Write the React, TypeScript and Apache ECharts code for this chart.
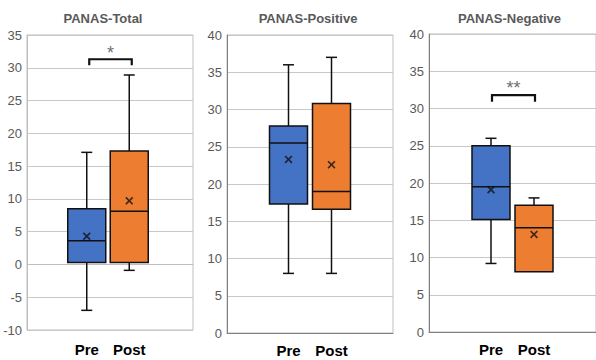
import React, { useEffect, useRef } from "react";
import * as echarts from "echarts";

const categories = ["Pre", "Post"];
const panelTitles = ["PANAS-Total", "PANAS-Positive", "PANAS-Negative"];
// [min, Q1, median, Q3, max]
const totalStats = [
  [-7, 0.3, 3.6, 8.5, 17.1],
  [-0.9, 0.3, 8.1, 17.3, 28.9],
];
const totalMeans = [4.3, 9.7];
const positiveStats = [
  [8, 17.3, 25.5, 27.8, 36],
  [8, 16.6, 19, 30.8, 37],
];
const positiveMeans = [23.3, 22.6];
const negativeStats = [
  [9.2, 15.1, 19.5, 25, 26],
  [8.1, 8.1, 14, 17, 18],
];
const negativeMeans = [19.1, 13.1];
// [from category, to category, leg bottom, bracket top, star y, label]
const totalSig = [[0, 1, 30.4, 31.3, 32.8, "*"]];
const negativeSig = [[0, 1, 30.9, 31.8, 33.3, "**"]];
const yRanges = [
  { min: -10, max: 35 },
  { min: 0, max: 40 },
  { min: 0, max: 40 },
];

const boxColors = ["#4472C4", "#ED7D31"];

const frames = [
  { left: 27, top: 35, width: 166, height: 295 },
  { left: 227, top: 35, width: 166, height: 298 },
  { left: 429, top: 34, width: 167, height: 298 },
];
const boxGrids = [
  { left: 65.5, width: 85 },
  { left: 267, width: 86 },
  { left: 469.5, width: 86 },
];
const labelMargins = [12, 9.5, 10];
const bracketShift = [2.5, 1.5, 1];

const statsList = [totalStats, positiveStats, negativeStats];
const meansList = [totalMeans, positiveMeans, negativeMeans];
const sigList = [totalSig, [], negativeSig];

const xMark =
  "path://M0,1.5L1.5,0L5,3.5L8.5,0L10,1.5L6.5,5L10,8.5L8.5,10L5,6.5L1.5,10L0,8.5L3.5,5Z";

export default function App() {
  const ref = useRef<HTMLDivElement>(null);
  useEffect(() => {
    if (!ref.current) return;
    const chart = echarts.init(ref.current, null, { renderer: "svg" });
    const grid: any[] = [];
    const xAxis: any[] = [];
    const yAxis: any[] = [];
    const series: any[] = [];
    const title: any[] = [];

    frames.forEach((f, i) => {
      const frameIdx = i * 2;
      const boxIdx = i * 2 + 1;
      const dark = i === 0 ? "#bfbfbf" : "#808080";
      grid.push({
        left: f.left,
        top: f.top,
        width: f.width,
        height: f.height,
        show: true,
        borderColor: "#bfbfbf",
        borderWidth: 1,
        backgroundColor: "#ffffff",
      });
      grid.push({
        left: boxGrids[i].left,
        top: f.top,
        width: boxGrids[i].width,
        height: f.height,
      });
      title.push({
        text: panelTitles[i],
        left: f.left + f.width / 2 + (i === 0 ? -12 : i === 1 ? -7 : -8),
        top: 7,
        textAlign: "center",
        textStyle: {
          fontFamily: "Liberation Sans, Arial, sans-serif",
          fontSize: 13,
          fontWeight: "bold",
          color: "#595959",
        },
      });
      xAxis.push({
        type: "value",
        gridIndex: frameIdx,
        min: 0,
        max: 1,
        axisLabel: { show: false },
        axisTick: { show: false },
        splitLine: { show: false },
        axisLine: { show: true, lineStyle: { color: dark, width: 1 } },
      });
      xAxis.push({
        type: "category",
        gridIndex: boxIdx,
        data: categories,
        axisLine: { show: false },
        axisTick: { show: false },
        axisLabel: {
          margin: labelMargins[i],
          fontFamily: "Liberation Sans, Arial, sans-serif",
          fontSize: 15,
          fontWeight: "bold",
          color: "#000000",
        },
      });
      yAxis.push({
        type: "value",
        gridIndex: frameIdx,
        min: yRanges[i].min,
        max: yRanges[i].max,
        interval: 5,
        axisLine: { show: true, lineStyle: { color: dark, width: 1 } },
        axisTick: { show: false },
        axisLabel: {
          margin: 5,
          fontFamily: "Liberation Sans, Arial, sans-serif",
          fontSize: 13,
          color: "#595959",
        },
        splitLine: { show: true, lineStyle: { color: "#c8c8c8", width: 1 } },
      });
      yAxis.push({
        type: "value",
        gridIndex: boxIdx,
        min: yRanges[i].min,
        max: yRanges[i].max,
        interval: 5,
        show: false,
        splitLine: { show: false },
      });

      const stats = statsList[i];
      series.push({
        type: "custom",
        xAxisIndex: boxIdx,
        yAxisIndex: boxIdx,
        data: stats.map((s, k) => [k, ...s]),
        encode: { x: 0, y: [1, 2, 3, 4, 5] },
        renderItem: (params: any, api: any) => {
          const k = api.value(0);
          const x = api.coord([k, 0])[0];
          const yv = [1, 2, 3, 4, 5].map((d) => api.coord([k, api.value(d)])[1]);
          const [yMin, yQ1, yMed, yQ3, yMax] = yv;
          const half = 19;
          const cap = 5.5;
          const ls = { stroke: "#111111", lineWidth: 1.5 };
          const children: any[] = [];
          if (Math.abs(yMax - yQ3) > 0.5) {
            children.push({ type: "line", shape: { x1: x, y1: yMax, x2: x, y2: yQ3 }, style: ls });
            children.push({ type: "line", shape: { x1: x - cap, y1: yMax, x2: x + cap, y2: yMax }, style: ls });
          }
          if (Math.abs(yMin - yQ1) > 0.5) {
            children.push({ type: "line", shape: { x1: x, y1: yQ1, x2: x, y2: yMin }, style: ls });
            children.push({ type: "line", shape: { x1: x - cap, y1: yMin, x2: x + cap, y2: yMin }, style: ls });
          }
          children.push({
            type: "rect",
            shape: { x: x - half, y: yQ3, width: half * 2, height: yQ1 - yQ3 },
            style: { fill: boxColors[k], stroke: "#111111", lineWidth: 1.5 },
          });
          children.push({ type: "line", shape: { x1: x - half, y1: yMed, x2: x + half, y2: yMed }, style: ls });
          return { type: "group", children };
        },
        z: 3,
      });
      series.push({
        type: "scatter",
        xAxisIndex: boxIdx,
        yAxisIndex: boxIdx,
        data: meansList[i].map((m, k) => [k, m]),
        symbol: xMark,
        symbolSize: 8,
        itemStyle: { color: "#111111" },
        z: 5,
      });
      if (sigList[i].length) {
        const shift = bracketShift[i];
        series.push({
          type: "custom",
          xAxisIndex: boxIdx,
          yAxisIndex: boxIdx,
          data: sigList[i],
          renderItem: (params: any, api: any) => {
            const a = api.value(0);
            const b = api.value(1);
            const xa = api.coord([a, 0])[0] + shift;
            const xb = api.coord([b, 0])[0] + shift;
            const yLeg = api.coord([a, api.value(2)])[1];
            const yTop = api.coord([a, api.value(3)])[1];
            const yStar = api.coord([a, api.value(4)])[1];
            const label = sigList[i][params.dataIndex][5] as string;
            return {
              type: "group",
              children: [
                {
                  type: "polyline",
                  shape: { points: [[xa, yLeg], [xa, yTop], [xb, yTop], [xb, yLeg]] },
                  style: { stroke: "#111111", lineWidth: 2.2, fill: "none" },
                },
                {
                  type: "text",
                  x: (xa + xb) / 2,
                  y: yStar + 4,
                  style: {
                    text: label,
                    fill: "#707070",
                    font: "18px Liberation Sans, Arial, sans-serif",
                    align: "center",
                    verticalAlign: "middle",
                  },
                },
              ],
            };
          },
          z: 4,
        });
      }
    });

    chart.setOption({
      animation: false,
      backgroundColor: "#ffffff",
      title,
      grid,
      xAxis,
      yAxis,
      series,
    });
    return () => chart.dispose();
  }, []);
  return (
    <div
      ref={ref}
      style={{ position: "fixed", left: 0, top: 0, width: 596, height: 360 }}
    />
  );
}
